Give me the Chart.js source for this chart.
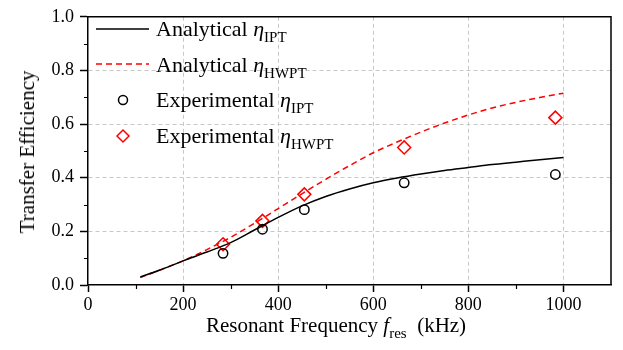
<!DOCTYPE html>
<html>
<head>
<meta charset="utf-8">
<script src="https://cdn.jsdelivr.net/npm/chart.js@4.4.1/dist/chart.umd.min.js"></script>
<style>
  html, body { margin: 0; padding: 0; background: #fff; }
  #wrap { position: relative; width: 623px; height: 350px; font-family: "Liberation Serif", "Times New Roman", serif; color: #000; }
  #chart { position: absolute; left: 0; top: 0; }
  .txt { position: absolute; white-space: nowrap; line-height: 22px; }
  .sub { position: relative; top: 6px; font-size: 15px; font-style: normal; }
  .eta { font-style: italic; }
  .leg-sym { position: absolute; left: 94px; width: 58px; height: 20px; }
  .leg-txt { left: 156px; font-size: 22px; }
  #xtitle { left: 206px; top: 314px; font-size: 21px; }
  #ytitle { left: 27px; top: 152px; font-size: 21px; transform: translate(-50%, -50%) rotate(-90deg); }
</style>
</head>
<body>
<div id="wrap">
  <canvas id="chart" width="623" height="350"></canvas>

  <svg class="leg-sym" style="top:19px" viewBox="0 0 58 20"><line x1="2" y1="10" x2="55" y2="10" stroke="#000" stroke-width="1.5"/></svg>
  <div class="txt leg-txt" style="top:18px">Analytical <span class="eta">η</span><span class="sub">IPT</span></div>

  <svg class="leg-sym" style="top:54px" viewBox="0 0 58 20"><line x1="2" y1="10" x2="55" y2="10" stroke="#f00" stroke-width="1.5" stroke-dasharray="6 4"/></svg>
  <div class="txt leg-txt" style="top:53.5px">Analytical <span class="eta">η</span><span class="sub">HWPT</span></div>

  <svg class="leg-sym" style="top:90px" viewBox="0 0 58 20"><circle cx="29" cy="10" r="4.5" fill="none" stroke="#000" stroke-width="1.5"/></svg>
  <div class="txt leg-txt" style="top:89px">Experimental <span class="eta">η</span><span class="sub">IPT</span></div>

  <svg class="leg-sym" style="top:126px" viewBox="0 0 58 20"><polygon points="23,10 29,4 35,10 29,16" fill="none" stroke="#f00" stroke-width="1.5"/></svg>
  <div class="txt leg-txt" style="top:124.5px">Experimental <span class="eta">η</span><span class="sub">HWPT</span></div>

  <div id="xtitle" class="txt">Resonant Frequency <span class="eta">f</span><span class="sub">res</span>&nbsp;&nbsp;(kHz)</div>
  <div id="ytitle" class="txt">Transfer Efficiency</div>
</div>

<script>
// analytical curves
const freqAnalytical = [110, 150, 200, 250, 300, 350, 400, 450, 500, 550, 600, 650, 700, 750, 800, 850, 900, 950, 1000];
const iptAnalytical  = [0.030, 0.055, 0.090, 0.123, 0.158, 0.205, 0.252, 0.295, 0.330, 0.358, 0.381, 0.399, 0.414, 0.427, 0.438, 0.449, 0.458, 0.467, 0.475];
const hwptAnalytical = [0.028, 0.055, 0.090, 0.132, 0.178, 0.230, 0.285, 0.340, 0.394, 0.445, 0.493, 0.533, 0.570, 0.604, 0.634, 0.660, 0.681, 0.699, 0.715];

// measured points
const freqExp = [284, 367, 455, 665, 983];
const iptExp  = [0.118, 0.208, 0.281, 0.381, 0.412];
const hwptExp = [0.152, 0.239, 0.338, 0.513, 0.624];

const xTicks = [0, 200, 400, 600, 800, 1000];
const xMinor = [100, 300, 500, 700, 900];
const yTicks = [0, 0.2, 0.4, 0.6, 0.8, 1.0];
const yMinor = [0.1, 0.3, 0.5, 0.7, 0.9];

const toXY = (xs, ys) => xs.map((x, i) => ({ x: x, y: ys[i] }));

// top/right frame and the short minor ticks
const frame = {
  id: 'frame',
  afterDraw(chart) {
    const { ctx, chartArea: a, scales: { x, y } } = chart;
    ctx.save();
    ctx.strokeStyle = '#000';
    ctx.lineWidth = 1.5;
    ctx.beginPath();
    ctx.moveTo(a.left, a.top);
    ctx.lineTo(a.right, a.top);
    ctx.lineTo(a.right, a.bottom);
    ctx.stroke();
    ctx.lineWidth = 1.2;
    ctx.beginPath();
    xMinor.forEach(v => {
      const px = Math.round(x.getPixelForValue(v)) + 0.5;
      ctx.moveTo(px, a.bottom);
      ctx.lineTo(px, a.bottom + 4);
    });
    yMinor.forEach(v => {
      const py = Math.round(y.getPixelForValue(v)) + 0.5;
      ctx.moveTo(a.left, py);
      ctx.lineTo(a.left - 4, py);
    });
    ctx.stroke();
    ctx.restore();
  }
};

const tickFont = { family: 'Liberation Serif', size: 18 };

new Chart(document.getElementById('chart'), {
  type: 'scatter',
  data: {
    datasets: [
      {
        label: 'Analytical IPT',
        data: toXY(freqAnalytical, iptAnalytical),
        showLine: true,
        borderColor: '#000',
        borderWidth: 1.5,
        pointRadius: 0,
        cubicInterpolationMode: 'monotone'
      },
      {
        label: 'Analytical HWPT',
        data: toXY(freqAnalytical, hwptAnalytical),
        showLine: true,
        borderColor: '#f00',
        borderWidth: 1.5,
        borderDash: [6, 4],
        pointRadius: 0,
        cubicInterpolationMode: 'monotone'
      },
      {
        label: 'Experimental IPT',
        data: toXY(freqExp, iptExp),
        pointStyle: 'circle',
        pointRadius: 4.7,
        borderColor: '#000',
        borderWidth: 1.5,
        backgroundColor: 'rgba(0,0,0,0)'
      },
      {
        label: 'Experimental HWPT',
        data: toXY(freqExp, hwptExp),
        pointStyle: 'rectRot',
        pointRadius: 6.5,
        borderColor: '#f00',
        borderWidth: 1.5,
        backgroundColor: 'rgba(0,0,0,0)'
      }
    ]
  },
  options: {
    responsive: false,
    animation: false,
    devicePixelRatio: 1,
    layout: { autoPadding: false, padding: { left: 0, top: 10, right: 12, bottom: 0 } },
    plugins: { legend: { display: false }, tooltip: { enabled: false } },
    scales: {
      x: {
        type: 'linear',
        min: 0,
        max: 1100,
        afterBuildTicks: s => { s.ticks = xTicks.map(v => ({ value: v })); },
        afterFit: s => { s.height = 65; },
        ticks: { color: '#000', font: tickFont, padding: 2, callback: v => v },
        grid: {
          color: c => (c.tick && c.tick.value > 0) ? '#c8c8c8' : 'rgba(0,0,0,0)',
          lineWidth: 1,
          tickColor: '#000',
          tickLength: 7,
          tickWidth: 1.5
        },
        border: { display: true, color: '#000', width: 1.5, dash: [4, 3] }
      },
      y: {
        type: 'linear',
        min: 0,
        max: 1,
        afterBuildTicks: s => { s.ticks = yTicks.map(v => ({ value: v })); },
        afterFit: s => { s.width = 88; },
        ticks: { color: '#000', font: tickFont, padding: 6, callback: v => v.toFixed(1) },
        grid: {
          color: c => (c.tick && c.tick.value > 0.01 && c.tick.value < 0.99) ? '#c8c8c8' : 'rgba(0,0,0,0)',
          lineWidth: 1,
          tickColor: '#000',
          tickLength: 8,
          tickWidth: 1.5
        },
        border: { display: true, color: '#000', width: 1.5, dash: [4, 3] }
      }
    }
  },
  plugins: [frame]
});
</script>
</body>
</html>
